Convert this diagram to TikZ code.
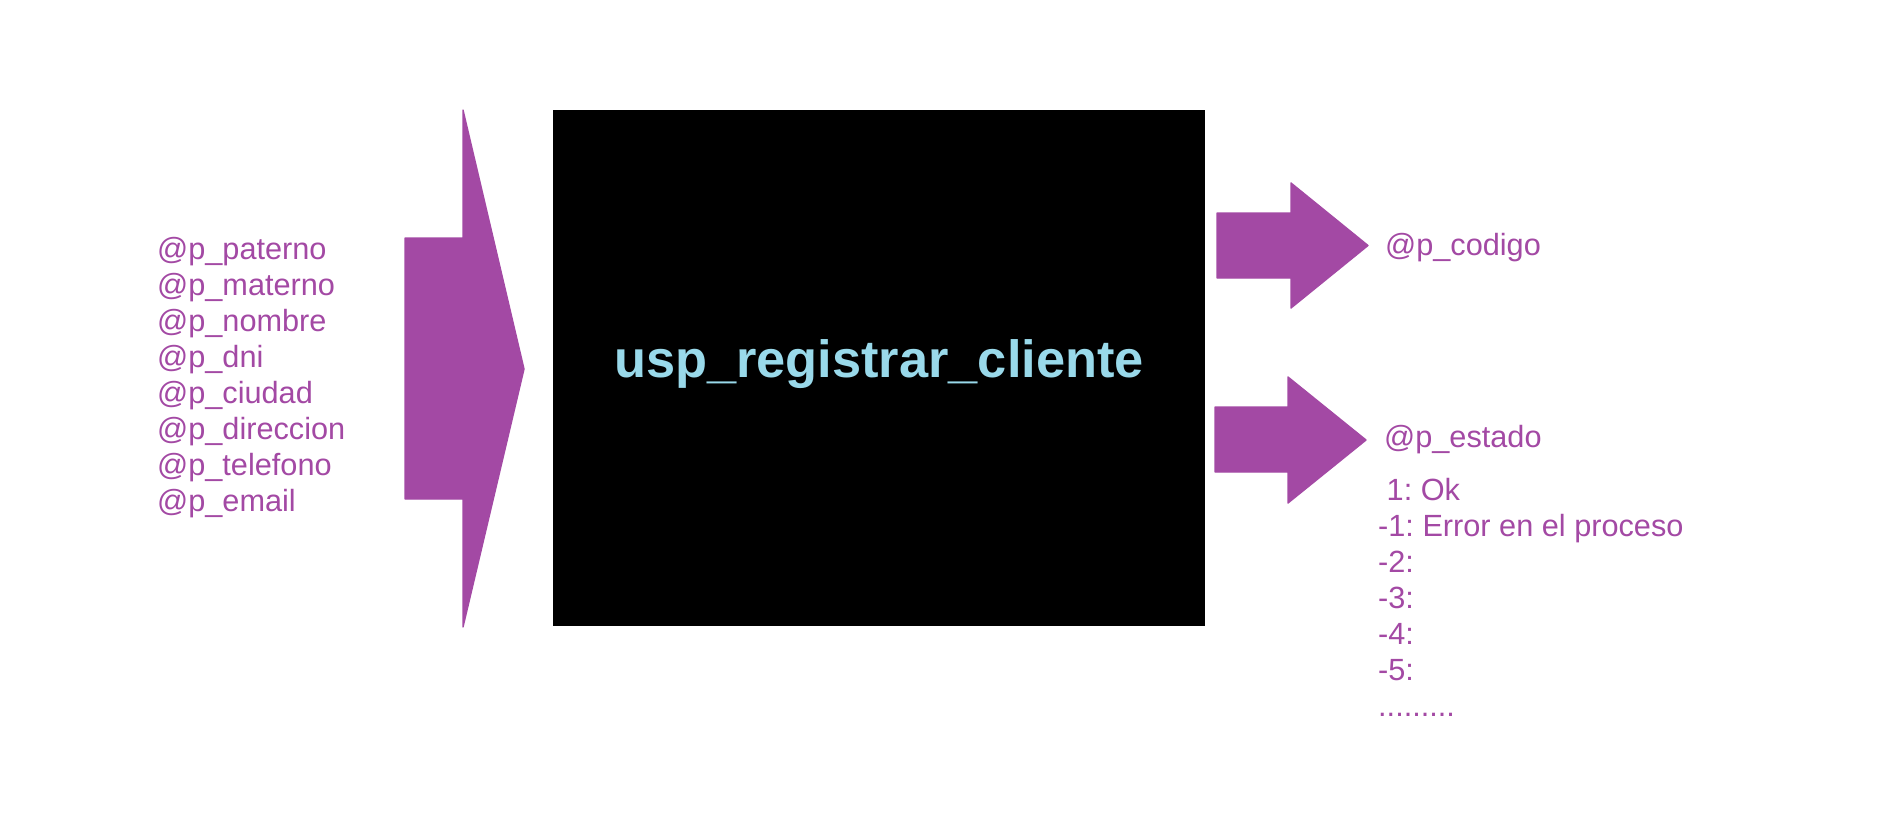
\documentclass[tikz,border=0pt]{standalone}
\usepackage{fontspec}
\setmainfont{Liberation Sans}
\usetikzlibrary{positioning}
\definecolor{argpurple}{RGB}{163,73,164}
\definecolor{procblue}{RGB}{153,217,234}
\frenchspacing

\begin{document}
\begin{tikzpicture}[
	bigarrow/.style={fill=argpurple, draw=argpurple, line width=0.4pt, line join=round},
	param/.style={text=argpurple, inner sep=0pt, anchor=base west, font=\fontsize{8.73}{10}\selectfont},
	procbox/.style={fill=black, inner sep=0pt, minimum width=6.52cm, minimum height=5.16cm},
]
\useasboundingbox (0,0) rectangle (18.81,8.30);
% procedimiento
\node[procbox] (proc) at (8.79,4.62) {};
\node[text=procblue, font=\bfseries\fontsize{14.9}{17}\selectfont, yshift=0.04cm] (title) at (proc.center) {usp\_registrar\_cliente};
% entrada
\fill[bigarrow] (4.05,5.92) -- (4.63,5.92) -- (4.63,7.20) -- (5.24,4.61) -- (4.63,2.03) -- (4.63,3.31) -- (4.05,3.31) -- cycle;
\foreach \p [count=\i from 0] in {paterno, materno, nombre, dni, ciudad, direccion, telefono, email}
	\node[param] (in-\p) at (1.565, 5.71-0.36*\i) {@p\_\p};
% salida
\fill[bigarrow] (12.17,6.17) -- (12.91,6.17) -- (12.91,6.47) -- (13.68,5.845) -- (12.91,5.22) -- (12.91,5.52) -- (12.17,5.52) -- cycle;
\fill[bigarrow] (12.15,4.23) -- (12.88,4.23) -- (12.88,4.53) -- (13.66,3.90) -- (12.88,3.27) -- (12.88,3.58) -- (12.15,3.58) -- cycle;
\node[param] (codigo) at (13.845,5.75) {@p\_codigo};
\node[param] (estado) at (13.835,3.83) {@p\_estado};
\foreach \txt [count=\i from 0] in {\ 1: Ok, -1: Error en el proceso, -2:, -3:, -4:, -5:}
	\node[param] (cod-\i) at (13.775, 3.293-0.36*\i) {\txt};
\node[param] (cod-dots) at (13.775, 3.293-0.36*6) {.........};
\end{tikzpicture}
\end{document}
